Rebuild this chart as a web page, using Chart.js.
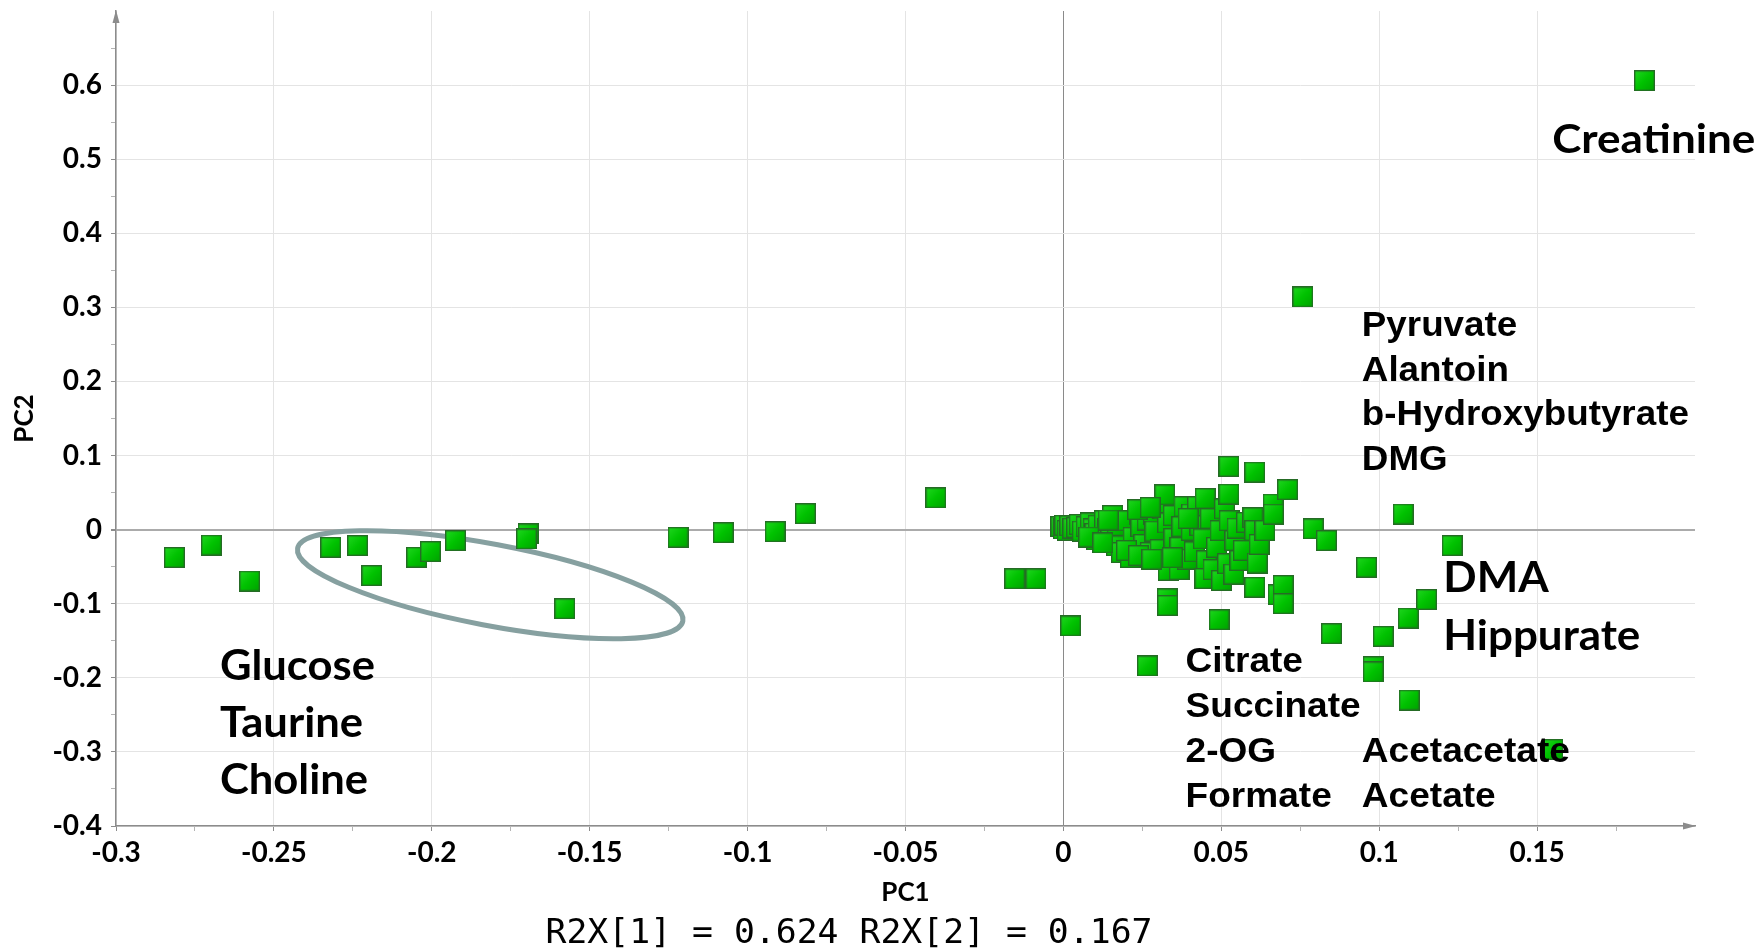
<!DOCTYPE html>
<html>
<head>
<meta charset="utf-8">
<title>PCA loadings plot</title>
<script src="https://cdn.jsdelivr.net/npm/chart.js@4.4.1/dist/chart.umd.min.js"></script>
<style>
  html, body { margin: 0; padding: 0; background: #fff; }
  #wrap { width: 1764px; height: 952px; }
</style>
</head>
<body>
<div id="wrap"><canvas id="loadings" width="1764" height="952"></canvas></div>
<script>
// ---- axes ----
const pc1Range = [-0.3, 0.2];
const pc2Range = [-0.4, 0.7];
const pc1Ticks = [-0.3, -0.25, -0.2, -0.15, -0.1, -0.05, 0, 0.05, 0.1, 0.15];
const pc2Ticks = [-0.4, -0.3, -0.2, -0.1, 0, 0.1, 0.2, 0.3, 0.4, 0.5, 0.6];
const explained = [0.624, 0.167];

// ---- loadings away from the origin ----
const outerPC1 = [-0.2815, -0.2698, -0.2577, -0.2320, -0.2235, -0.2190, -0.2048, -0.2004, -0.1925, -0.1695,
  -0.1700, -0.1579, -0.1220, -0.1077, -0.0913, -0.0817, -0.0404, -0.0154, -0.0087, 0.0023,
  0.0266, 0.0329, 0.0330, 0.0493, 0.0849, 0.1013, 0.0981, 0.0981, 0.1092, 0.1150,
  0.1095, 0.1550, 0.0960, 0.1231, 0.1076, 0.0791, 0.0833, 0.0758, 0.1840];
const outerPC2 = [-0.0376, -0.0209, -0.0694, -0.0238, -0.0215, -0.0620, -0.0373, -0.0296, -0.0148, -0.0058,
  -0.0126, -0.1068, -0.0103, -0.0042, -0.0027, 0.0215, 0.0428, -0.0664, -0.0664, -0.1300,
  -0.1840, -0.0934, -0.1024, -0.1217, -0.1405, -0.1440, -0.1850, -0.1920, -0.1194, -0.0943,
  -0.2300, -0.2966, -0.0507, -0.0215, 0.0211, 0.0010, -0.0148, 0.3140, 0.6060];

// ---- dense group just right of the origin ----
const clusterPC1 = [-0.0008, 0.0000, 0.0004, 0.0012, 0.0020, 0.0030, 0.0042, 0.0050, 0.0060, 0.0072,
  0.0085, 0.0094, 0.0100, 0.0110, 0.0105, 0.0130, 0.0140, 0.0156, 0.0150, 0.0170,
  0.0168, 0.0184, 0.0195, 0.0212, 0.0221, 0.0242, 0.0245, 0.0255, 0.0265, 0.0275,
  0.0285, 0.0290, 0.0306, 0.0315, 0.0321, 0.0332, 0.0330, 0.0348, 0.0350, 0.0367,
  0.0369, 0.0375, 0.0382, 0.0392, 0.0405, 0.0406, 0.0415, 0.0425, 0.0432, 0.0449,
  0.0443, 0.0453, 0.0448, 0.0465, 0.0474, 0.0485, 0.0496, 0.0501, 0.0510, 0.0524,
  0.0524, 0.0525, 0.0520, 0.0543, 0.0540, 0.0550, 0.0559, 0.0570, 0.0580, 0.0600,
  0.0606, 0.0606, 0.0606, 0.0614, 0.0620, 0.0638, 0.0664, 0.0665, 0.0680, 0.0696,
  0.0696, 0.0710, 0.0080, 0.0125, 0.0200, 0.0238, 0.0280, 0.0142, 0.0235, 0.0275,
  0.0345, 0.0395];
const clusterPC2 = [0.0040, 0.0010, 0.0060, -0.0010, 0.0050, 0.0020, 0.0030, 0.0070, -0.0020, 0.0040,
  0.0090, 0.0010, -0.0050, 0.0060, -0.0139, 0.0120, 0.0020, 0.0190, -0.0070, 0.0050,
  -0.0220, -0.0310, 0.0120, -0.0377, -0.0104, 0.0210, 0.0040, -0.0200, 0.0130, -0.0310,
  0.0200, -0.0020, -0.0270, 0.0280, 0.0470, -0.0550, 0.0090, 0.0190, -0.0120, -0.0540,
  -0.0240, 0.0040, 0.0310, -0.0400, -0.0010, 0.0210, -0.0300, 0.0310, 0.0054, 0.0420,
  -0.0126, -0.0420, -0.0660, 0.0150, -0.0540, -0.0240, -0.0013, -0.0687, 0.0280, 0.0480,
  0.0853, 0.0120, -0.0460, -0.0148, -0.0600, 0.0020, -0.0418, -0.0280, 0.0098, 0.0160,
  -0.0013, 0.0777, -0.0777, -0.0451, -0.0200, -0.0013, 0.0346, 0.0210, -0.0880, -0.0754,
  -0.1000, 0.0539, -0.0100, -0.0180, -0.0280, -0.0350, -0.0400, 0.0130, 0.0270, 0.0300,
  -0.0380, 0.0150];

// ---- metabolite names written on the plot ----
const creatinineNote = ['Creatinine'];
const upperRightNote = ['Pyruvate', 'Alantoin', 'b-Hydroxybutyrate', 'DMG'];
const middleRightNote = ['DMA', 'Hippurate'];
const lowerMiddleNote = ['Citrate', 'Succinate', '2-OG', 'Formate'];
const lowerRightNote = ['Acetacetate', 'Acetate'];
const leftNote = ['Glucose', 'Taurine', 'Choline'];

// where each block of names sits (data units, baseline of first line) and how it looks
const notes = [
  { lines: creatinineNote, at: [0.1548, 0.508], gap: 0, font: 'bold 41px Lato', width: 203 },
  { lines: upperRightNote, at: [0.0945, 0.2613], gap: 44.7, font: 'bold 35px "Liberation Sans"', width: 327 },
  { lines: middleRightNote, at: [0.1203, -0.0844], gap: 58.3, font: 'bold 42px Lato', width: 197 },
  { lines: lowerMiddleNote, at: [0.0387, -0.1922], gap: 45, font: 'bold 35px "Liberation Sans"', width: 175 },
  { lines: lowerRightNote, at: [0.0945, -0.3134], gap: 45, font: 'bold 35px "Liberation Sans"', width: 208 },
  { lines: leftNote, at: [-0.2671, -0.2024], gap: 57, font: 'bold 42px Lato', width: 155 }
];

// outline around the left-hand group (centre plus two conjugate semi-axes, data units)
const ellipseBand = { center: [-0.1815, -0.0743], major: [0.0610, -0.049], minor: [-0.0024, -0.054] };

const toPoints = (xs, ys) => xs.map((v, i) => ({ x: v, y: ys[i] }));

// green square marker with a soft shading
function squareMarker(side) {
  const c = document.createElement('canvas');
  c.width = side; c.height = side;
  const g = c.getContext('2d');
  const grad = g.createLinearGradient(0, 0, side, side);
  grad.addColorStop(0, '#22d822');
  grad.addColorStop(0.5, '#00c200');
  grad.addColorStop(1, '#00a000');
  g.fillStyle = grad;
  g.fillRect(0, 0, side, side);
  g.strokeStyle = '#256b25';
  g.lineWidth = 1.4;
  g.strokeRect(0.7, 0.7, side - 1.4, side - 1.4);
  return c;
}
const marker = squareMarker(21);

// majors from the tick arrays, minors half way between
function buildTicks(majors, step, max) {
  const list = majors.map(v => ({ value: v }));
  majors.forEach(v => {
    const m = +(v + step / 2).toFixed(4);
    if (m < max) list.push({ value: m, minor: true });
  });
  return list.sort((a, b) => a.value - b.value);
}

const gridColor = (ctx, zeroColor) => {
  const t = ctx.tick;
  if (!t || t.minor) return 'rgba(0,0,0,0)';
  if (t.value === 0) return zeroColor;
  return '#e4e4e4';
};

const tickFont = { family: 'Lato', weight: 'bold', size: 28 };
const titleFont = { family: 'Lato', weight: 'bold', size: 26 };

const overlay = {
  id: 'overlay',
  beforeDatasetsDraw(chart) {
    const { ctx, scales: { x, y } } = chart;
    const e = ellipseBand;
    const cx = x.getPixelForValue(e.center[0]);
    const cy = y.getPixelForValue(e.center[1]);
    const ux = x.getPixelForValue(e.center[0] + e.major[0]) - cx;
    const uy = y.getPixelForValue(e.center[1] + e.major[1]) - cy;
    const vx = x.getPixelForValue(e.center[0] + e.minor[0]) - cx;
    const vy = y.getPixelForValue(e.center[1] + e.minor[1]) - cy;
    ctx.save();
    ctx.beginPath();
    ctx.save();
    ctx.transform(ux, uy, vx, vy, cx, cy);
    ctx.arc(0, 0, 1, 0, Math.PI * 2);
    ctx.restore();
    ctx.strokeStyle = '#86a0a0';
    ctx.lineWidth = 5;
    ctx.stroke();
    ctx.restore();
  },
  afterDatasetsDraw(chart) {
    const { ctx, scales: { x, y } } = chart;
    ctx.save();
    ctx.fillStyle = '#000';
    ctx.textAlign = 'left';
    ctx.textBaseline = 'alphabetic';
    notes.forEach(n => {
      ctx.font = n.font;
      const widest = Math.max(...n.lines.map(t => ctx.measureText(t).width));
      ctx.save();
      ctx.translate(x.getPixelForValue(n.at[0]), y.getPixelForValue(n.at[1]));
      ctx.scale(n.width / widest, 1);
      n.lines.forEach((t, i) => ctx.fillText(t, 0, i * n.gap));
      ctx.restore();
    });
    ctx.restore();
  },
  afterDraw(chart) {
    const { ctx, chartArea: a } = chart;
    ctx.save();
    // arrow heads on both axes
    ctx.fillStyle = '#8c8c8c';
    ctx.beginPath();
    ctx.moveTo(a.left, a.top - 1);
    ctx.lineTo(a.left - 3.5, a.top + 12);
    ctx.lineTo(a.left + 3.5, a.top + 12);
    ctx.closePath();
    ctx.fill();
    ctx.beginPath();
    ctx.moveTo(a.right + 1, a.bottom);
    ctx.lineTo(a.right - 12, a.bottom - 3.5);
    ctx.lineTo(a.right - 12, a.bottom + 3.5);
    ctx.closePath();
    ctx.fill();
    // explained variance line under the axis title
    ctx.fillStyle = '#000';
    ctx.font = '33px "DejaVu Sans Mono"';
    const caption = `R2X[1] = ${explained[0]} R2X[2] = ${explained[1]}`;
    const w = ctx.measureText(caption).width;
    ctx.translate(849, 943);
    ctx.scale(607 / w, 1);
    ctx.textAlign = 'center';
    ctx.fillText(caption, 0, 0);
    ctx.restore();
  }
};

new Chart(document.getElementById('loadings'), {
  type: 'scatter',
  data: {
    datasets: [
      { data: toPoints(outerPC1, outerPC2), pointStyle: marker, pointRadius: 10, pointHoverRadius: 10 },
      { data: toPoints(clusterPC1, clusterPC2), pointStyle: marker, pointRadius: 10, pointHoverRadius: 10 }
    ]
  },
  options: {
    responsive: false,
    animation: false,
    devicePixelRatio: 1,
    layout: { padding: { left: 0, right: 69, top: 9, bottom: 0 } },
    plugins: { legend: { display: false }, tooltip: { enabled: false } },
    scales: {
      x: {
        type: 'linear',
        position: 'bottom',
        min: pc1Range[0],
        max: pc1Range[1],
        afterBuildTicks: s => { s.ticks = buildTicks(pc1Ticks, 0.05, pc1Range[1]); },
        afterFit: s => { s.height = 126; s.paddingLeft = 0; s.paddingRight = 0; },
        ticks: {
          autoSkip: false,
          maxRotation: 0,
          padding: 5,
          color: '#000',
          font: tickFont,
          callback: (v, i, ticks) => ticks[i].minor ? '' : String(v)
        },
        grid: {
          color: c => gridColor(c, '#8a8a8a'),
          lineWidth: 1,
          tickColor: c => (c.tick && c.tick.minor) ? '#b4b4b4' : '#8c8c8c',
          tickLength: 5
        },
        border: { color: '#8c8c8c', width: 1.5 },
        title: { display: true, text: 'PC1', color: '#000', font: titleFont, padding: { top: 0, bottom: 44 } }
      },
      y: {
        type: 'linear',
        min: pc2Range[0],
        max: pc2Range[1],
        afterBuildTicks: s => { s.ticks = buildTicks(pc2Ticks, 0.1, pc2Range[1]); },
        afterFit: s => { s.width = 116; s.paddingTop = 0; s.paddingBottom = 0; },
        ticks: {
          autoSkip: false,
          padding: 9,
          color: '#000',
          font: tickFont,
          callback: (v, i, ticks) => ticks[i].minor ? '' : String(v)
        },
        grid: {
          color: c => gridColor(c, '#ababab'),
          lineWidth: c => (c.tick && c.tick.value === 0) ? 2 : 1,
          tickColor: c => (c.tick && c.tick.minor) ? '#b4b4b4' : '#8c8c8c',
          tickLength: 5
        },
        border: { color: '#8c8c8c', width: 1.5 },
        title: { display: true, text: 'PC2', color: '#000', font: titleFont, padding: { top: 9, bottom: 0 } }
      }
    }
  },
  plugins: [overlay]
});
</script>
</body>
</html>
